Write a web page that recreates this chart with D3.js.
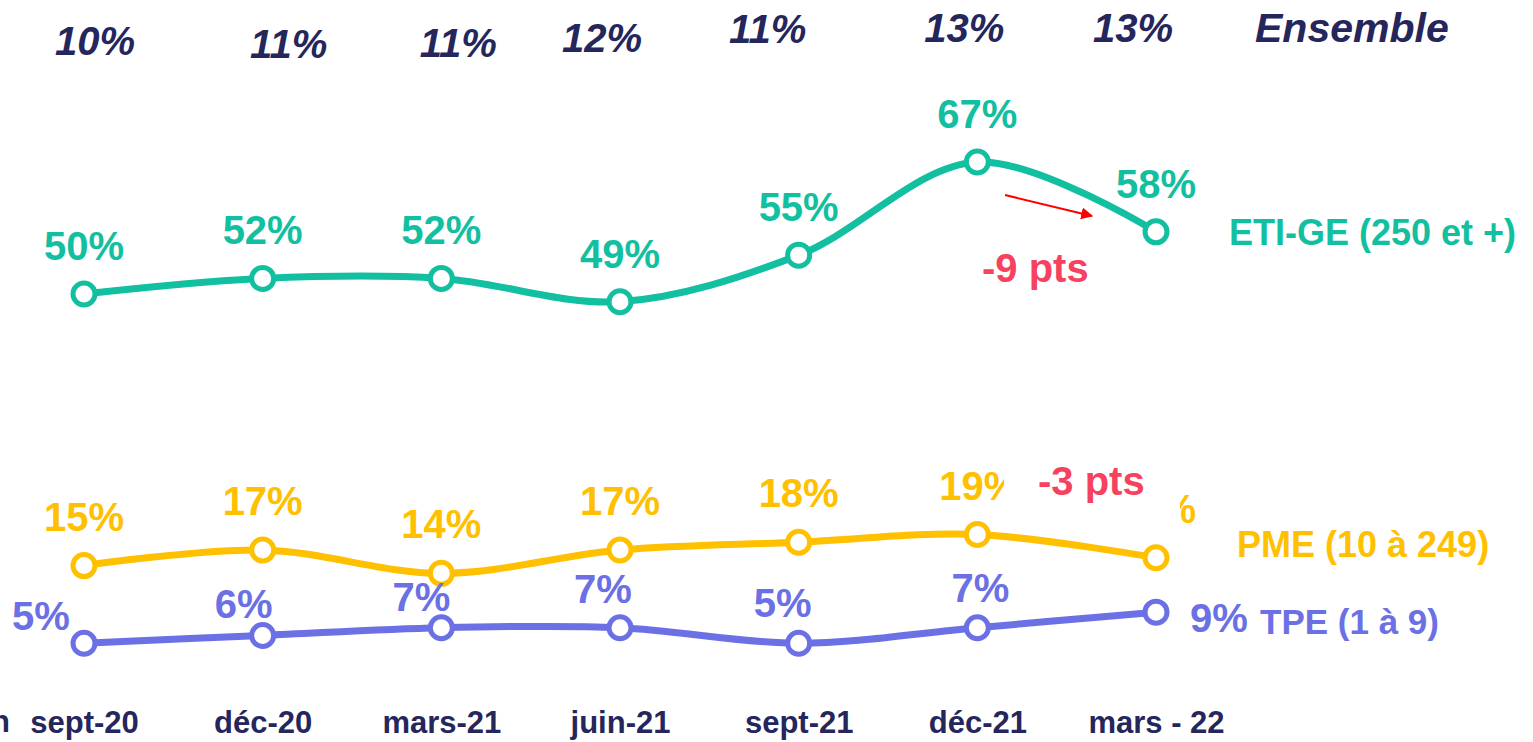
<!DOCTYPE html>
<html><head><meta charset="utf-8">
<script src="https://cdn.jsdelivr.net/npm/d3@7"></script>
<style>html,body{margin:0;padding:0;background:#fff;overflow:hidden}svg{display:block}</style>
</head><body><svg id="c" width="1533" height="742"></svg>
<script>
// ---- data ----
const categories = ["sept-20","déc-20","mars-21","juin-21","sept-21","déc-21","mars - 22"];
const ensemble = [10,11,11,12,11,13,13];
const eti = [50,52,52,49,55,67,58];
const pme = [15,17,14,17,18,19,16];
const tpe = [5,6,7,7,5,7,9];
const seriesNames = ["ETI-GE (250 et +)","PME (10 à 249)","TPE (1 à 9)"];
const deltas = ["-9 pts","-3 pts"];

// ---- layout ----
const FONT = "'Liberation Sans', Arial, sans-serif";
const NAVY = "#24265c", TEAL = "#12bfa0", GOLD = "#ffc000", VIOLET = "#6b70e4", RED = "#f7425f";
const svg = d3.select("#c");
const x = d3.scalePoint().domain(categories).range([84, 1156]);
const y = d3.scaleLinear().domain([0, 67]).range([682, 162]);

// label offsets (layout only)
const ensDx = [11, 26, 17, -18, -31, -13, -23];
const ensBase = [55, 58, 57, 52, 43, 42, 42];
const tpeDx = [-43, -19, -20, -17, -16, 3, null];
const tpeDy = [-13, -17, -17, -25, -26, -26, null];

// Ensemble row
svg.append("g").selectAll("text").data(ensemble).join("text")
  .attr("x", (d,i) => x(categories[i]) + ensDx[i])
  .attr("y", (d,i) => ensBase[i])
  .attr("text-anchor", "middle")
  .attr("font-family", FONT).attr("font-weight", "bold").attr("font-style", "italic")
  .attr("font-size", 40).attr("fill", NAVY)
  .text(d => d + "%");
svg.append("text").attr("x", 1255).attr("y", 42)
  .attr("font-family", FONT).attr("font-weight", "bold").attr("font-style", "italic")
  .attr("font-size", 41).attr("fill", NAVY).text("Ensemble");

// x axis labels
const axis = d3.axisBottom(x).tickSize(0).tickPadding(0);
const gx = svg.append("g").attr("transform", "translate(0,704)").call(axis);
gx.select(".domain").remove();
gx.selectAll("text").attr("font-family", FONT).attr("font-weight", "bold")
  .attr("font-size", 31).attr("fill", NAVY).attr("dy", "0.92em");
svg.append("text").attr("x", 10).attr("y", 732).attr("text-anchor", "end")
  .attr("font-family", FONT).attr("font-weight", "bold").attr("font-size", 31)
  .attr("fill", NAVY).text("juin");

const line = d3.line().x((d,i) => x(categories[i])).y(d => y(d)).curve(d3.curveCatmullRom.alpha(0.5));

function drawSeries(vals, color) {
  const g = svg.append("g");
  g.append("path").attr("d", line(vals)).attr("fill", "none")
    .attr("stroke", color).attr("stroke-width", 7).attr("stroke-linecap", "round");
  g.selectAll("circle").data(vals).join("circle")
    .attr("cx", (d,i) => x(categories[i])).attr("cy", d => y(d)).attr("r", 11)
    .attr("fill", "#fff").attr("stroke", color).attr("stroke-width", 5);
  return g;
}
const labelAttrs = s => s.attr("font-family", FONT).attr("font-weight", "bold").attr("font-size", 40);

drawSeries(eti, TEAL);
drawSeries(pme, GOLD);
drawSeries(tpe, VIOLET);

// ETI labels
svg.append("g").selectAll("text").data(eti).join("text")
  .attr("x", (d,i) => x(categories[i])).attr("y", d => y(d) - 34)
  .attr("text-anchor", "middle").attr("fill", TEAL).call(labelAttrs)
  .text(d => d + "%");
// PME labels (last one is mostly masked by the "-3 pts" box, as in the original)
svg.append("defs").append("clipPath").attr("id", "pmeclip")
  .append("rect").attr("x", 0).attr("y", 0).attr("width", 1004).attr("height", 742);
svg.select("defs").append("clipPath").attr("id", "lastclip")
  .append("rect").attr("x", 1180).attr("y", 450).attr("width", 40).attr("height", 90);
svg.append("g").selectAll("text").data(pme).join("text")
  .attr("x", (d,i) => x(categories[i]) + (i === 5 ? 2 : 0)).attr("y", d => y(d) - 35)
  .attr("text-anchor", "middle").attr("fill", GOLD).call(labelAttrs)
  .attr("clip-path", (d,i) => i === 6 ? "url(#lastclip)" : (i === 5 ? "url(#pmeclip)" : null))
  .text(d => d + "%");
// TPE labels
svg.append("g").selectAll("text").data(tpe).join("text")
  .attr("x", (d,i) => i === 6 ? x(categories[i]) + 34 : x(categories[i]) + tpeDx[i])
  .attr("y", (d,i) => i === 6 ? y(d) + 20 : y(d) + tpeDy[i])
  .attr("text-anchor", (d,i) => i === 6 ? "start" : "middle")
  .attr("fill", VIOLET).call(labelAttrs)
  .text(d => d + "%");

// series names
const nameX = [1229, 1237, 1260];
const nameY = [245, 557, 634];
const nameC = [TEAL, GOLD, VIOLET];
const nameS = [36, 36, 35];
svg.append("g").selectAll("text").data(seriesNames).join("text")
  .attr("x", (d,i) => nameX[i]).attr("y", (d,i) => nameY[i])
  .attr("font-family", FONT).attr("font-weight", "bold").attr("font-size", (d,i) => nameS[i])
  .attr("fill", (d,i) => nameC[i]).text(d => d);

// annotations
svg.select("defs").append("marker").attr("id", "ah").attr("viewBox", "0 0 10 10")
  .attr("refX", 9).attr("refY", 5).attr("markerWidth", 6).attr("markerHeight", 6)
  .attr("orient", "auto").attr("markerUnits", "strokeWidth")
  .append("path").attr("d", "M0,0L10,5L0,10z").attr("fill", "#ff0000");
svg.append("line").attr("x1", 1005).attr("y1", 195).attr("x2", 1092).attr("y2", 216)
  .attr("stroke", "#ff0000").attr("stroke-width", 2).attr("marker-end", "url(#ah)");
svg.append("text").attr("x", 982).attr("y", 282).attr("fill", RED).call(labelAttrs).text(deltas[0]);
svg.append("text").attr("x", 1038).attr("y", 495).attr("fill", RED).call(labelAttrs).text(deltas[1]);
</script></body></html>
